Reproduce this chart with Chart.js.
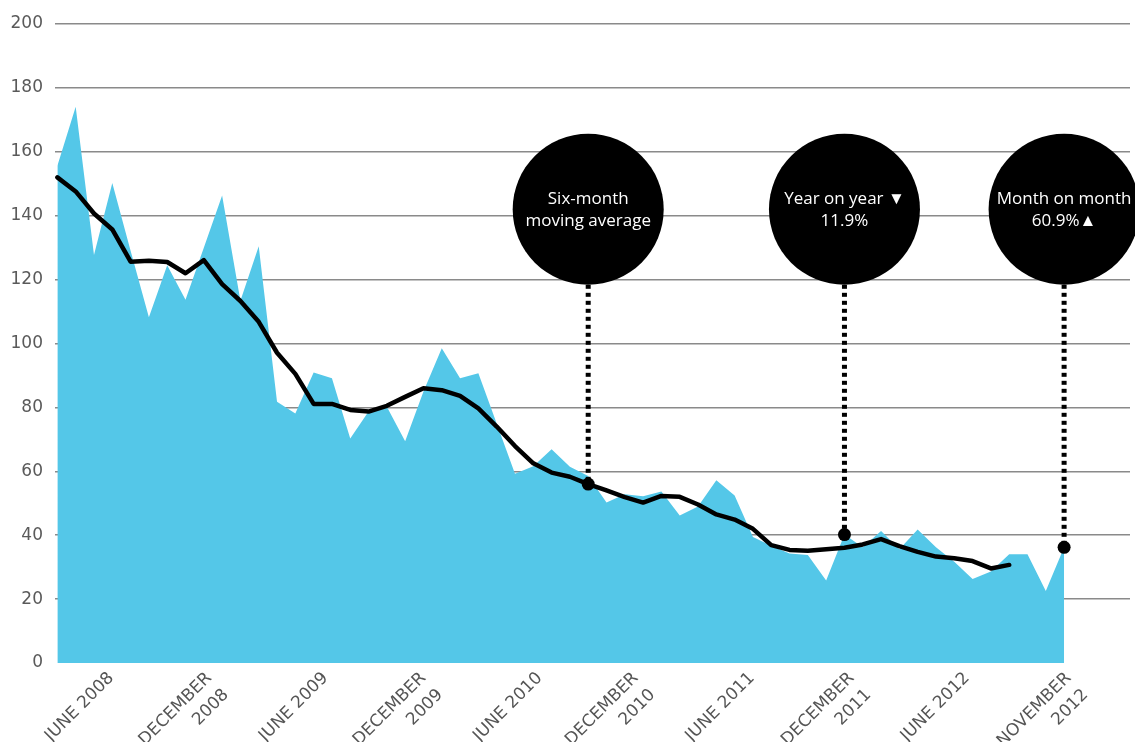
<!DOCTYPE html>
<html lang="en">
  <head>
    <meta charset="UTF-8" />
    <title>Monthly index and six-month moving average</title>
    <script src="https://cdn.jsdelivr.net/npm/chart.js"></script>
    <style>
      html, body { margin: 0; padding: 0; background: #fff; }
      #wrap { width: 1135px; height: 742px; }
    </style>
  </head>
  <body>
    <div id="wrap"><canvas id="myChart"></canvas></div>

    <script>
      // April 2008 .. November 2012, one value a month
      const months = [
        "Apr 2008", "May 2008", "Jun 2008", "Jul 2008", "Aug 2008", "Sep 2008", "Oct 2008", "Nov 2008", "Dec 2008",
        "Jan 2009", "Feb 2009", "Mar 2009", "Apr 2009", "May 2009", "Jun 2009", "Jul 2009", "Aug 2009", "Sep 2009", "Oct 2009", "Nov 2009", "Dec 2009",
        "Jan 2010", "Feb 2010", "Mar 2010", "Apr 2010", "May 2010", "Jun 2010", "Jul 2010", "Aug 2010", "Sep 2010", "Oct 2010", "Nov 2010", "Dec 2010",
        "Jan 2011", "Feb 2011", "Mar 2011", "Apr 2011", "May 2011", "Jun 2011", "Jul 2011", "Aug 2011", "Sep 2011", "Oct 2011", "Nov 2011", "Dec 2011",
        "Jan 2012", "Feb 2012", "Mar 2012", "Apr 2012", "May 2012", "Jun 2012", "Jul 2012", "Aug 2012", "Sep 2012", "Oct 2012", "Nov 2012",
      ];

      const monthly = [
        155.6, 174.1, 127.7, 150.2, 129.0, 108.2, 124.5, 113.7, 130.0, 146.3, 113.4, 130.4,
        81.8, 78.1, 90.9, 89.1, 70.3, 78.7, 80.2, 69.4, 85.0, 98.5, 89.1, 90.7,
        75.0, 59.2, 61.6, 66.9, 61.4, 58.5, 50.2, 52.8, 52.2, 53.7, 46.2, 49.0,
        57.2, 52.4, 39.4, 36.7, 34.3, 33.8, 25.8, 40.2, 36.2, 41.3, 35.6, 41.8,
        36.2, 31.7, 26.3, 28.6, 34.0, 34.0, 22.5, 36.2,
      ];

      // six-month moving average, stops three months before the end
      const movingAvg = [
        152.0, 147.6, 140.7, 135.7, 125.6, 125.9, 125.5, 122.0, 126.1, 118.6, 113.3, 106.8,
        97.1, 90.5, 81.1, 81.1, 79.2, 78.7, 80.5, 83.3, 86.0, 85.4, 83.6, 79.7,
        74.0, 67.9, 62.5, 59.6, 58.3, 56.0, 54.0, 51.9, 50.2, 52.3, 52.0, 49.6,
        46.5, 44.9, 42.0, 36.9, 35.4, 35.1, 35.6, 36.1, 37.1, 38.8, 36.6, 34.8,
        33.3, 32.8, 31.9, 29.6, 30.7, null, null, null,
      ];

      // axis labels and where they sit (in months from April 2008)
      const tickLabels = [
        ["JUNE 2008"], ["DECEMBER", "2008"], ["JUNE 2009"], ["DECEMBER", "2009"], ["JUNE 2010"],
        ["DECEMBER", "2010"], ["JUNE 2011"], ["DECEMBER", "2011"], ["JUNE 2012"], ["NOVEMBER", "2012"],
      ];
      const tickAt = [2.95, 8.3, 14.65, 20.0, 26.35, 31.6, 37.95, 43.4, 49.7, 55.25];

      const yTicks = [0, 20, 40, 60, 80, 100, 120, 140, 160, 180, 200];

      // black bubbles with dotted leaders
      const callouts = [
        { lines: ["Six-month", "moving average"], series: 1, month: 29 },
        { lines: ["Year on year \u25BC", "11.9%"], series: 0, month: 43 },
        { lines: ["Month on month", "60.9%\u25B2"], series: 0, month: 55 },
      ];
      const bubbleLevel = 142;

      const calloutPlugin = {
        id: "callouts",
        afterDatasetsDraw(chart) {
          const { ctx } = chart;
          const xs = chart.scales.x;
          const ys = chart.scales.y;
          const r = 75.5;
          const cy = ys.getPixelForValue(bubbleLevel);
          ctx.save();
          callouts.forEach((c) => {
            const pt = chart.data.datasets[c.series].data[c.month];
            const px = xs.getPixelForValue(c.month);
            const py = ys.getPixelForValue(pt.y);

            ctx.beginPath();
            ctx.setLineDash([4, 4]);
            ctx.lineWidth = 5;
            ctx.strokeStyle = "#000";
            ctx.moveTo(px, cy + r);
            ctx.lineTo(px, py);
            ctx.stroke();
            ctx.setLineDash([]);

            ctx.fillStyle = "#000";
            ctx.beginPath();
            ctx.arc(px, py, 6.5, 0, Math.PI * 2);
            ctx.fill();

            ctx.beginPath();
            ctx.arc(px, cy, r, 0, Math.PI * 2);
            ctx.fill();

            ctx.fillStyle = "#fff";
            ctx.font = '17px "Open Sans"';
            ctx.textAlign = "center";
            ctx.textBaseline = "middle";
            c.lines.forEach((t, i) => {
              ctx.fillText(t, px, cy + 1 + (i - (c.lines.length - 1) / 2) * 22);
            });
          });
          ctx.restore();
        },
      };

      new Chart(document.getElementById("myChart"), {
        type: "line",
        data: {
          labels: months,
          datasets: [
            {
              label: "Monthly",
              data: monthly.map((v, i) => ({ x: i, y: v })),
              fill: "origin",
              backgroundColor: "#54c7e8",
              borderWidth: 0,
              pointRadius: 0,
              tension: 0,
              order: 2,
            },
            {
              label: "Six-month moving average",
              data: movingAvg.map((v, i) => ({ x: i, y: v })),
              fill: false,
              borderColor: "#000",
              borderWidth: 4.5,
              borderCapStyle: "round",
              borderJoinStyle: "round",
              pointRadius: 0,
              tension: 0,
              order: 1,
            },
          ],
        },
        options: {
          responsive: true,
          maintainAspectRatio: false,
          animation: false,
          layout: { padding: { top: 24, right: 5, bottom: 0, left: 0 } },
          plugins: { legend: { display: false }, tooltip: { enabled: false } },
          scales: {
            x: {
              type: "linear",
              min: -0.13,
              max: 58.6,
              grid: { display: false, drawTicks: false },
              border: { display: false },
              afterBuildTicks: (s) => {
                s.ticks = tickAt.map((v) => ({ value: v }));
              },
              afterFit: (s) => {
                s.height = 79;
              },
              ticks: {
                autoSkip: false,
                minRotation: 45,
                maxRotation: 45,
                padding: 4,
                color: "#555",
                font: { family: "DejaVu Sans", size: 17, lineHeight: 1.4 },
                callback: (v, i) => tickLabels[i],
              },
            },
            y: {
              min: 0,
              max: 200,
              grid: {
                drawTicks: false,
                color: (c) => (c.tick.value === 0 ? "rgba(0,0,0,0)" : "#8a8a8a"),
                lineWidth: 1.5,
              },
              border: { display: false },
              afterBuildTicks: (s) => {
                s.ticks = yTicks.map((v) => ({ value: v }));
              },
              afterFit: (s) => {
                s.width = 55;
              },
              ticks: {
                padding: 12,
                color: "#5a5a5a",
                font: { family: "DejaVu Sans", size: 17 },
              },
            },
          },
        },
        plugins: [calloutPlugin],
      });
    </script>
  </body>
</html>
